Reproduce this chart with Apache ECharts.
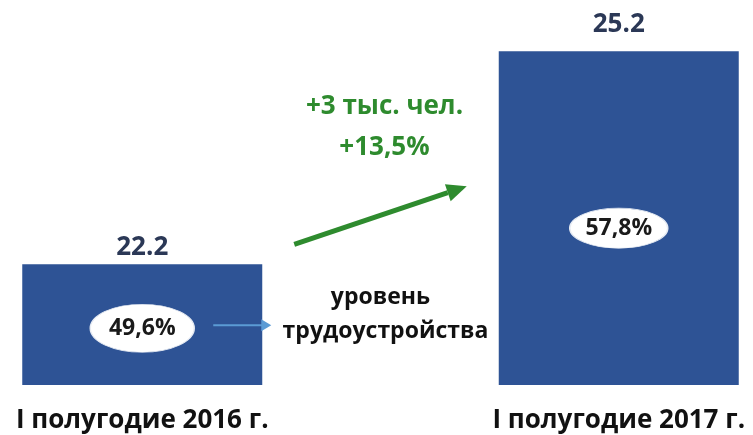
<!DOCTYPE html>
<html>
<head>
<meta charset="utf-8">
<script src="https://cdn.jsdelivr.net/npm/echarts@6/dist/echarts.min.js"></script>
<style>
  html, body { margin: 0; padding: 0; background: #fff; }
  #chart { width: 753px; height: 435px; }
</style>
</head>
<body>
<div id="chart"></div>
<script>
// Трудоустроено, тыс. чел.
const categories = ['I полугодие 2016 г.', 'I полугодие 2017 г.'];
const employed = [22.2, 25.2];
// Уровень трудоустройства, %
const employmentRate = [49.6, 57.8];
// Прирост
const changeLines = ['+3 тыс. чел.', '+13,5%'];
const rateCaption = ['уровень', 'трудоустройства'];

const FONT = '"Open Sans", "DejaVu Sans", sans-serif';
const BAR_COLOR = '#2E5395';
const GREEN = '#2E8B2E';
const AXIS_MIN = 20.5;
const AXIS_MAX = 25.5;
const BAR_WIDTH = 240;
const ellipseSizes = [[104, 48], [98, 40]];
const valueLabelGap = [4, 14];

const fmtPct = v => v.toFixed(1).replace('.', ',') + '%';

const chart = echarts.init(document.getElementById('chart'), null, { renderer: 'canvas' });

chart.setOption({
  animation: false,
  backgroundColor: '#ffffff',
  grid: { left: -96, right: -104, top: 30, bottom: 50, containLabel: false, outerBoundsMode: 'none' },
  xAxis: {
    type: 'category',
    data: categories,
    axisLine: { show: false },
    axisTick: { show: false },
    axisLabel: {
      margin: 23,
      fontFamily: FONT,
      fontWeight: 'bold',
      fontSize: 26,
      color: '#111111'
    }
  },
  yAxis: {
    type: 'value',
    min: AXIS_MIN,
    max: AXIS_MAX,
    show: false,
    splitLine: { show: false }
  },
  series: [
    {
      type: 'bar',
      data: employed.map((v, i) => ({ value: v, label: { distance: valueLabelGap[i] } })),
      barWidth: BAR_WIDTH,
      itemStyle: { color: BAR_COLOR },
      label: {
        show: true,
        position: 'top',
        formatter: p => p.value.toFixed(1),
        fontFamily: FONT,
        fontWeight: 'bold',
        fontSize: 26,
        color: '#2B3856'
      }
    },
    {
      // white ellipses with the employment rate inside each bar
      type: 'scatter',
      z: 5,
      data: employmentRate.map((r, i) => ({
        value: [i, AXIS_MIN + 0.47 * (employed[i] - AXIS_MIN)],
        symbolSize: ellipseSizes[i]
      })),
      symbol: 'circle',
      itemStyle: { color: '#ffffff', opacity: 1, borderColor: '#e6ebf3', borderWidth: 1 },
      label: {
        show: true,
        position: 'inside',
        formatter: p => fmtPct(employmentRate[p.dataIndex]),
        fontFamily: FONT,
        fontWeight: 'bold',
        fontSize: 23,
        color: '#1a1a1a'
      }
    }
  ]
});

// Arrows and captions placed relative to the bars
function drawAnnotations() {
  const half = BAR_WIDTH / 2;
  const c1 = chart.convertToPixel({ gridIndex: 0 }, [0, employed[0]]);
  const c2 = chart.convertToPixel({ gridIndex: 0 }, [1, employed[1]]);
  const e1 = chart.convertToPixel({ gridIndex: 0 }, [0, AXIS_MIN + 0.47 * (employed[0] - AXIS_MIN)]);
  const bar1Right = c1[0] + half;
  const bar2Left = c2[0] - half;
  const gapMid = (bar1Right + bar2Left) / 2;

  // green growth arrow
  const sx = bar1Right + 32, sy = c1[1] - 20;
  const ex = bar2Left - 32, ey = sy - 58;
  const ang = Math.atan2(ey - sy, ex - sx);
  const headLen = 20, headW = 9;
  const bx = ex - headLen * Math.cos(ang), by = ey - headLen * Math.sin(ang);
  const nx = -Math.sin(ang), ny = Math.cos(ang);

  // small blue pointer from the ellipse to the caption
  const px0 = e1[0] + ellipseSizes[0][0] / 2 + 19;
  const px1 = bar1Right + 9;
  const py = e1[1] - 3;

  const textStyle = (txt, color, size) => ({
    text: txt, fill: color, font: 'bold ' + size + 'px ' + FONT,
    align: 'center', verticalAlign: 'middle'
  });

  chart.setOption({
    graphic: [
      {
        type: 'line', z: 10,
        shape: { x1: sx, y1: sy, x2: bx, y2: by },
        style: { stroke: GREEN, lineWidth: 5 }
      },
      {
        type: 'polygon', z: 10,
        shape: { points: [[ex, ey], [bx + nx * headW, by + ny * headW], [bx - nx * headW, by - ny * headW]] },
        style: { fill: GREEN }
      },
      {
        type: 'line', z: 10,
        shape: { x1: px0, y1: py, x2: px1 - 9, y2: py },
        style: { stroke: '#5B9BD5', lineWidth: 2 }
      },
      {
        type: 'polygon', z: 10,
        shape: { points: [[px1, py], [px1 - 10, py - 6], [px1 - 10, py + 6]] },
        style: { fill: '#5B9BD5' }
      },
      { type: 'text', z: 10, x: gapMid + 4, y: 107, style: textStyle(changeLines[0], GREEN, 26) },
      { type: 'text', z: 10, x: gapMid + 4, y: 148, style: textStyle(changeLines[1], GREEN, 26) },
      { type: 'text', z: 10, x: gapMid, y: 297, style: textStyle(rateCaption[0], '#111111', 23) },
      { type: 'text', z: 10, x: gapMid + 5, y: 331, style: textStyle(rateCaption[1], '#111111', 23) }
    ]
  });
}
drawAnnotations();
</script>
</body>
</html>
